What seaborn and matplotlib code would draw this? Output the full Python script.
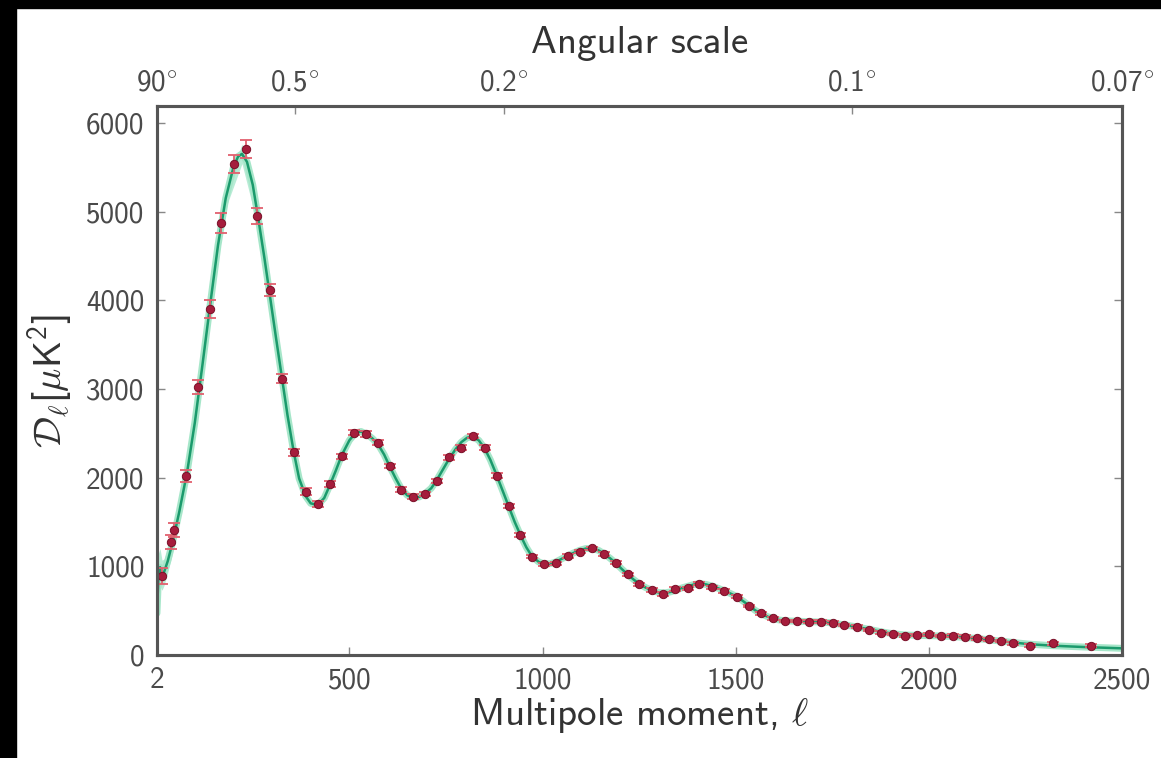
import numpy as np
import matplotlib
matplotlib.use('Agg')
import matplotlib.pyplot as plt
from matplotlib.patches import Rectangle
from matplotlib.ticker import FuncFormatter
import seaborn as sns

# binned power spectrum points (ell, D_ell, error)
data_ell = [15, 39, 46, 78, 108, 139, 169, 202, 233, 262,
            294, 326, 356, 387, 418, 450, 480, 512, 542, 573,
            604, 633, 665, 696, 726, 758, 788, 820, 850, 881,
            913, 943, 973, 1003, 1035, 1066, 1096, 1128, 1158, 1190,
            1220, 1251, 1283, 1313, 1343, 1376, 1406, 1440, 1470, 1504,
            1535, 1566, 1596, 1628, 1658, 1690, 1721, 1751, 1781, 1813,
            1844, 1876, 1906, 1938, 1969, 2000, 2031, 2062, 2094, 2124,
            2155, 2187, 2219, 2262, 2322, 2420]
data_D = [887, 1270, 1411, 2016, 3024, 3899, 4871, 5536, 5706, 4952,
          4113, 3117, 2286, 1843, 1702, 1927, 2238, 2508, 2492, 2394,
          2130, 1865, 1785, 1812, 1962, 2229, 2337, 2469, 2337, 2022,
          1680, 1353, 1108, 1022, 1033, 1116, 1165, 1202, 1139, 1041,
          910, 797, 733, 688, 744, 752, 805, 763, 722, 657,
          552, 470, 413, 383, 383, 376, 376, 365, 338, 319,
          282, 252, 237, 218, 225, 233, 214, 218, 206, 188,
          177, 158, 132, 105, 132, 105]
data_err = [90, 80, 80, 70, 80, 100, 110, 100, 100, 90,
            70, 50, 40, 35, 30, 30, 30, 30, 30, 30,
            25, 25, 25, 25, 25, 25, 25, 25, 25, 25,
            20, 20, 20, 20, 20, 20, 20, 20, 20, 20,
            20, 20, 20, 20, 20, 20, 20, 20, 20, 20,
            15, 15, 15, 15, 15, 15, 15, 15, 15, 15,
            15, 15, 15, 15, 15, 15, 15, 15, 15, 15,
            15, 15, 15, 15, 15, 15]

# best fit model curve
theory_ell = [2, 6, 10, 15, 20, 30, 40, 50, 60, 80,
              100, 120, 140, 160, 180, 200, 212, 222, 235, 250,
              265, 280, 295, 310, 326, 340, 356, 370, 387, 400,
              418, 435, 450, 465, 480, 500, 515, 530, 545, 560,
              575, 590, 604, 620, 635, 650, 665, 680, 696, 712,
              726, 742, 758, 775, 790, 805, 820, 835, 850, 865,
              881, 897, 913, 928, 943, 958, 973, 990, 1005, 1020,
              1035, 1050, 1066, 1080, 1096, 1112, 1128, 1145, 1160, 1175,
              1190, 1205, 1220, 1236, 1251, 1267, 1283, 1300, 1315, 1330,
              1345, 1360, 1376, 1392, 1408, 1424, 1440, 1456, 1472, 1488,
              1504, 1520, 1535, 1550, 1566, 1581, 1596, 1612, 1628, 1660,
              1690, 1720, 1750, 1780, 1812, 1844, 1876, 1906, 1938, 1970,
              2000, 2030, 2062, 2094, 2124, 2155, 2187, 2220, 2260, 2320,
              2400, 2500]
theory_D = [470, 900, 990, 900, 930, 1060, 1230, 1420, 1620, 2060,
            2620, 3280, 3960, 4620, 5150, 5500, 5620, 5650, 5560, 5300,
            4900, 4480, 4030, 3580, 3110, 2700, 2290, 1990, 1790, 1710,
            1690, 1770, 1920, 2080, 2250, 2420, 2500, 2520, 2490, 2440,
            2370, 2260, 2130, 1990, 1870, 1800, 1775, 1780, 1820, 1880,
            1970, 2090, 2210, 2320, 2400, 2450, 2460, 2420, 2330, 2200,
            2030, 1850, 1670, 1500, 1350, 1215, 1110, 1050, 1025, 1030,
            1050, 1085, 1120, 1150, 1180, 1200, 1200, 1180, 1140, 1090,
            1035, 970, 910, 850, 800, 760, 730, 705, 700, 710,
            730, 755, 775, 795, 805, 795, 775, 750, 720, 690,
            655, 605, 555, 505, 465, 435, 412, 395, 385, 380,
            376, 372, 362, 340, 318, 290, 262, 240, 226, 221,
            218, 214, 208, 198, 186, 172, 156, 140, 122, 105,
            90, 75]

# cosmic variance band at low multipoles
band_ell = [2, 6, 10, 15, 20, 30, 40, 60, 80, 100, 140, 180, 222, 265, 310]
band_lo = [150, 650, 780, 730, 780, 930, 1110, 1520, 1970, 2530, 3860, 5040, 5540, 4800, 3500]
band_hi = [800, 1150, 1200, 1070, 1080, 1190, 1350, 1720, 2150, 2710, 4060, 5260, 5760, 5000, 3660]

xticks = [2, 500, 1000, 1500, 2000, 2500]
yticks = [0, 1000, 2000, 3000, 4000, 5000, 6000]
angle_ell = [2, 360, 900, 1800, 2500]
angle_labels = ['90', '0.5', '0.2', '0.1', '0.07']

sns.set_style('ticks')
plt.rcParams['font.family'] = ['cmss10', 'DejaVu Sans']
plt.rcParams['mathtext.fontset'] = 'custom'
plt.rcParams['mathtext.rm'] = 'cmss10'
plt.rcParams['mathtext.sf'] = 'cmss10'
plt.rcParams['mathtext.it'] = 'cmmi10'
plt.rcParams['mathtext.cal'] = 'cmsy10'
plt.rcParams['mathtext.fallback'] = 'cm'
plt.rcParams['axes.unicode_minus'] = False

grey = '#4a4a4a'
fig = plt.figure(figsize=(11.61, 7.58), dpi=100)
fig.patch.set_facecolor('white')
ax = fig.add_axes([0.1352, 0.1359, 0.8312, 0.7243])

ax.fill_between(band_ell, band_lo, band_hi, color='#a8e8cc', alpha=0.8, lw=0)
sns.lineplot(x=theory_ell, y=theory_D, ax=ax, color='#a6e6c9', lw=5, sort=False)
sns.lineplot(x=theory_ell, y=theory_D, ax=ax, color='#1b9a6c', lw=1.8, sort=False)
ax.errorbar(data_ell, data_D, yerr=data_err, fmt='none', ecolor='#e2606e',
            elinewidth=1.3, capsize=4, capthick=1.3, zorder=3)
sns.scatterplot(x=data_ell, y=data_D, ax=ax, color='#a51d3c', edgecolor='#7a1028',
                s=36, linewidth=0.7, zorder=4)

ax.set_xlim(2, 2500)
ax.set_ylim(0, 6190)
ax.set_xticks(xticks)
ax.set_yticks(yticks)
fmt = FuncFormatter(lambda v, p: '%d' % v)
ax.xaxis.set_major_formatter(fmt)
ax.yaxis.set_major_formatter(fmt)
ax.tick_params(direction='in', length=6, width=1, color='#888888', labelsize=21,
               labelcolor=grey, right=True, top=False, pad=9)
ax.set_xlabel(r'Multipole moment, $\ell$', fontsize=28, color='#333333', labelpad=1)
ax.set_ylabel(r'$\mathcal{D}_\ell[\mu\mathsf{K}^2]$', fontsize=28, color='#333333', labelpad=8)

ax2 = ax.twiny()
ax2.set_xlim(ax.get_xlim())
ax2.set_xticks(angle_ell)
ax2.set_xticklabels([r'$\mathsf{%s}^{\circ}$' % a for a in angle_labels])
ax2.tick_params(direction='in', length=6, width=1, color='#888888', labelsize=21,
                labelcolor=grey, pad=7)
ax2.set_xlabel('Angular scale', fontsize=28, color='#333333', labelpad=12)

for a in (ax, ax2):
    for s in a.spines.values():
        s.set_color('#555555')
        s.set_linewidth(2.2)

# black strips of the original screenshot
fig.patches.append(Rectangle((0, 1 - 8 / 758), 1, 8 / 758, transform=fig.transFigure,
                             color='black', zorder=10))
fig.patches.append(Rectangle((0, 0), 16 / 1161, 1, transform=fig.transFigure,
                             color='black', zorder=10))

fig.savefig('out.png', dpi=100)
